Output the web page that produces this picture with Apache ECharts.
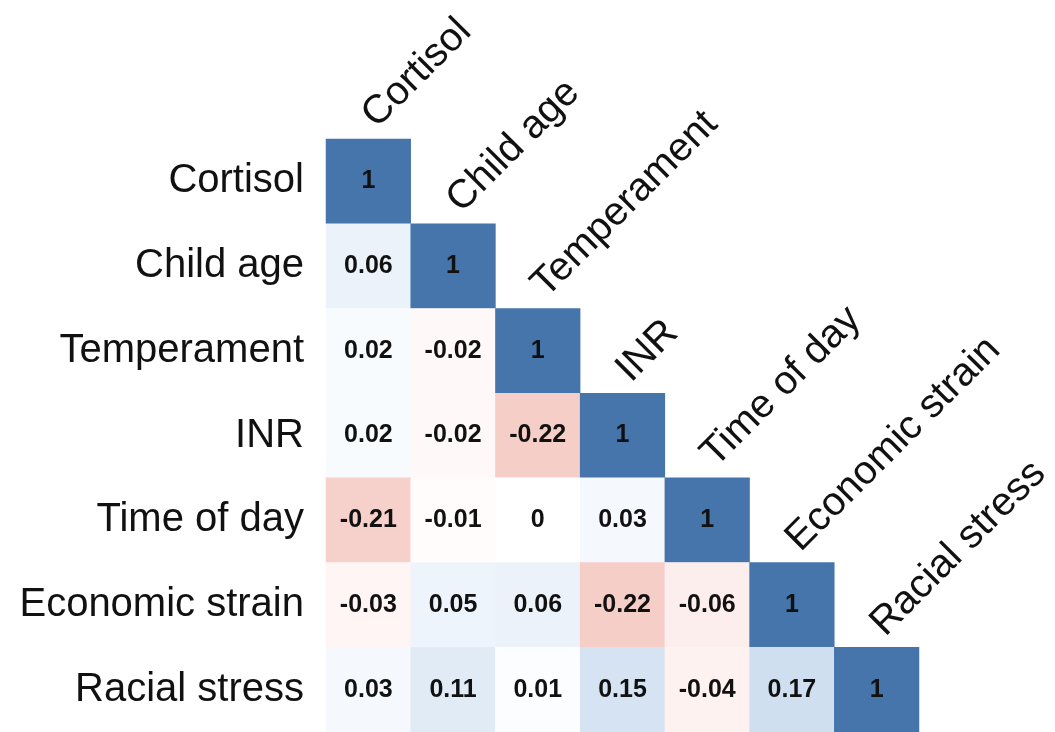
<!DOCTYPE html>
<html>
<head>
<meta charset="utf-8">
<title>Correlation matrix</title>
<script src="https://cdn.jsdelivr.net/npm/echarts@6/dist/echarts.min.js"></script>
<style>
  html, body { margin: 0; padding: 0; background: #ffffff; }
  #chart { width: 1055px; height: 732px; }
</style>
</head>
<body>
<div id="chart"></div>
<script>
// Variables, top to bottom (rows) and left to right (columns)
const variables = ['Cortisol', 'Child age', 'Temperament', 'INR', 'Time of day', 'Economic strain', 'Racial stress'];

// Lower triangle of the correlation matrix, one array per row
const rowCortisol    = [1];
const rowChildAge    = [0.06, 1];
const rowTemperament = [0.02, -0.02, 1];
const rowINR         = [0.02, -0.02, -0.22, 1];
const rowTimeOfDay   = [-0.21, -0.01, 0, 0.03, 1];
const rowEconomic    = [-0.03, 0.05, 0.06, -0.22, -0.06, 1];
const rowRacial      = [0.03, 0.11, 0.01, 0.15, -0.04, 0.17, 1];
const matrixRows = [rowCortisol, rowChildAge, rowTemperament, rowINR, rowTimeOfDay, rowEconomic, rowRacial];

// Diverging colour ramp: red for negative, white at zero, blue for positive
const colourStops = [
  [-1.00, [178, 24, 43]],
  [-0.22, [246, 206, 200]],
  [-0.04, [253, 242, 240]],
  [ 0.00, [255, 255, 255]],
  [ 0.06, [235, 242, 250]],
  [ 0.11, [224, 235, 246]],
  [ 0.17, [207, 223, 240]],
  [ 1.00, [69, 117, 170]]
];
function rampColour(v) {
  for (let i = 1; i < colourStops.length; i++) {
    const [v1, c1] = colourStops[i];
    const [v0, c0] = colourStops[i - 1];
    if (v <= v1 + 1e-9) {
      const t = (v - v0) / (v1 - v0);
      const c = c0.map((ch, k) => Math.round(ch + (c1[k] - ch) * t));
      return 'rgb(' + c.join(',') + ')';
    }
  }
  return 'rgb(69,117,170)';
}
const ramp = [];
for (let i = 0; i <= 200; i++) ramp.push(rampColour(-1 + i * 0.01));

// Heatmap cells [column, row, value]
const cells = [];
matrixRows.forEach((row, r) => row.forEach((v, c) => cells.push([c, r, v])));

// Column names sit diagonally just above each diagonal cell
const diagonal = variables.map((name, i) => ({ value: [i, i], name: name }));

const fontFamily = '"Liberation Sans", Arial, Helvetica, sans-serif';

const chart = echarts.init(document.getElementById('chart'), null, { renderer: 'canvas' });
chart.setOption({
  backgroundColor: '#ffffff',
  animation: false,
  grid: { left: 326, top: 139, width: 593, height: 593, containLabel: false },
  xAxis: {
    type: 'category',
    data: variables,
    show: false
  },
  yAxis: {
    type: 'category',
    data: variables,
    inverse: true,
    axisLine: { show: false },
    axisTick: { show: false },
    splitLine: { show: false },
    axisLabel: {
      fontSize: 40,
      color: '#111111',
      fontFamily: fontFamily,
      margin: 22
    }
  },
  visualMap: {
    show: false,
    type: 'continuous',
    min: -1,
    max: 1,
    dimension: 2,
    seriesIndex: 0,
    inRange: { color: ramp }
  },
  series: [
    {
      type: 'heatmap',
      data: cells,
      itemStyle: { borderWidth: 0 },
      label: {
        show: true,
        fontSize: 25,
        fontWeight: 'bold',
        color: '#111111',
        fontFamily: fontFamily,
        formatter: p => String(p.value[2])
      },
      emphasis: { disabled: true }
    },
    {
      type: 'scatter',
      data: diagonal,
      symbolSize: 0,
      silent: true,
      itemStyle: { color: '#111111', opacity: 1 },
      label: {
        show: true,
        position: 'inside',
        formatter: p => p.name,
        fontSize: 40,
        color: '#111111',
        opacity: 1,
        textBorderWidth: 0,
        fontFamily: fontFamily,
        rotate: 45,
        align: 'left',
        verticalAlign: 'bottom',
        offset: [43, -22]
      }
    }
  ]
});
</script>
</body>
</html>
